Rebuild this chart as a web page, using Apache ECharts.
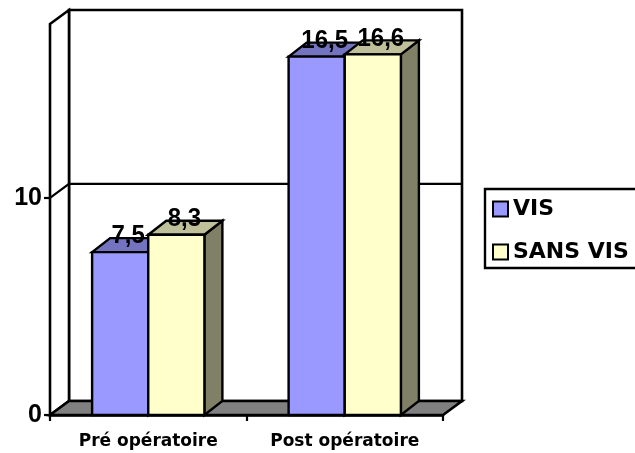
<!DOCTYPE html>
<html><head><meta charset="utf-8">
<script src="https://cdn.jsdelivr.net/npm/echarts@6/dist/echarts.min.js"></script>
<style>html,body{margin:0;padding:0;background:#fff}#c{width:635px;height:453px}</style>
</head><body><div id="c"></div>
<script>
const categories = ['Pré opératoire', 'Post opératoire'];
const seriesNames = ['VIS', 'SANS VIS'];
const visValues = [7.5, 16.5];
const sansVisValues = [8.3, 16.6];
const yTickValues = [0, 10];
const yMax = 18;
const colors = ['#9999FF', '#FFFFCC'];

const DX = 19, DY = -14;      // wall depth
const BDX = 18, BDY = -14;    // bar depth

function shade(hex, f) {
  const n = parseInt(hex.slice(1), 16);
  const r = Math.round(((n >> 16) & 255) * f), g = Math.round(((n >> 8) & 255) * f), b = Math.round((n & 255) * f);
  return 'rgb(' + r + ',' + g + ',' + b + ')';
}
const stroke = (fill, lw) => ({ fill: fill, stroke: '#000', lineWidth: lw, lineJoin: 'miter' });

function wallsRender(params, api) {
  const cs = params.coordSys;
  const x = cs.x, y = cs.y, w = cs.width, h = cs.height;
  const y10 = api.coord([0, yTickValues[1]])[1];
  return {
    type: 'group', children: [
      { type: 'rect', shape: { x: x + DX, y: y + DY, width: w, height: h }, style: stroke('#fff', 2.6) },
      { type: 'polygon', shape: { points: [[x, y], [x + DX, y + DY], [x + DX, y + h + DY], [x, y + h]] }, style: stroke('#fff', 2.6) },
      { type: 'polygon', shape: { points: [[x, y + h], [x + DX, y + h + DY], [x + w + DX, y + h + DY], [x + w, y + h]] }, style: stroke('#808080', 2.6) },
      { type: 'polyline', shape: { points: [[x, y10], [x + DX, y10 + DY], [x + w + DX, y10 + DY]] }, style: { fill: null, stroke: '#000', lineWidth: 2.2 } }
    ]
  };
}

function barRender(sIdx) {
  return function (params, api) {
    const cat = api.value(0), val = api.value(1);
    const band = api.size([1, 0])[0];
    const bw = band / 3.5;
    const top = api.coord([cat, val]);
    const base = api.coord([cat, 0]);
    const x0 = top[0] - bw + sIdx * bw, x1 = x0 + bw;
    const yT = top[1], yB = base[1];
    const c = colors[sIdx];
    return {
      type: 'group', children: [
        { type: 'polygon', shape: { points: [[x1, yB], [x1 + BDX, yB + BDY], [x1 + BDX, yT + BDY], [x1, yT]] }, style: stroke(shade(c, 0.5), 2.4) },
        { type: 'polygon', shape: { points: [[x0, yT], [x0 + BDX, yT + BDY], [x1 + BDX, yT + BDY], [x1, yT]] }, style: stroke(shade(c, 0.75), 2.4) },
        { type: 'rect', shape: { x: x0, y: yT, width: bw, height: yB - yT }, style: stroke(c, 2.4) }
      ]
    };
  };
}

function labelRender(params, api) {
  const cat = api.value(0), val = api.value(1), sIdx = api.value(2);
  const band = api.size([1, 0])[0];
  const bw = band / 3.5;
  const top = api.coord([cat, val]);
  const x0 = top[0] - bw + sIdx * bw;
  return {
    type: 'text',
    x: x0 + bw / 2 + BDX / 2 - 1, y: top[1] - 16,
    scaleY: 1.08,
    style: {
      x: 0, y: 0,
      text: String(val).replace('.', ','),
      fill: '#000', fontFamily: '"Liberation Sans", Arial, sans-serif', fontWeight: 'bold', fontSize: 24,
      align: 'center', verticalAlign: 'middle'
    }
  };
}

const labelData = [];
[visValues, sansVisValues].forEach((arr, s) => arr.forEach((v, i) => labelData.push([i, v, s])));

const chart = echarts.init(document.getElementById('c'), null, { renderer: 'canvas' });
chart.setOption({
  animation: false,
  backgroundColor: '#fff',
  grid: { left: 50, right: 192, top: 24, bottom: 38, containLabel: false },
  legend: {
    orient: 'vertical', left: 485, top: 189,
    data: seriesNames.map((n, i) => ({ name: n, icon: 'rect', itemStyle: { color: colors[i], borderColor: '#000', borderWidth: 2 } })),
    itemWidth: 15, itemHeight: 15, itemGap: 21,
    padding: [9, 40, 5, 7],
    borderColor: '#000', borderWidth: 2.4, backgroundColor: '#fff',
    selectedMode: false,
    textStyle: { fontFamily: 'DejaVu Sans', fontWeight: 'bold', fontSize: 22, color: '#000', lineHeight: 22 }
  },
  xAxis: {
    type: 'category', data: categories,
    axisLine: { lineStyle: { color: '#000', width: 2.6 } },
    axisTick: { show: true, length: 6, lineStyle: { color: '#000', width: 2.2 } },
    axisLabel: { color: '#000', fontFamily: 'DejaVu Sans', fontWeight: 'bold', fontSize: 17, margin: 18 },
    splitLine: { show: false }
  },
  yAxis: {
    type: 'value', min: 0, max: yMax, interval: 10,
    axisLine: { show: true, lineStyle: { color: '#000', width: 2.6 } },
    axisTick: { show: true, length: 6, customValues: yTickValues, lineStyle: { color: '#000', width: 2.2 } },
    axisLabel: { customValues: yTickValues, color: '#000', fontFamily: '"Liberation Sans", Arial', fontWeight: 'bold', fontSize: 25, margin: 8 },
    splitLine: { show: false }
  },
  series: [
    { type: 'custom', name: '_walls', z: 1, clip: false, silent: true, renderItem: wallsRender, data: [[0, 0]], encode: { x: 0, y: 1 } },
    { type: 'custom', name: seriesNames[0], z: 2, clip: false, itemStyle: { color: colors[0] }, renderItem: barRender(0), data: visValues.map((v, i) => [i, v]), encode: { x: 0, y: 1 } },
    { type: 'custom', name: seriesNames[1], z: 3, clip: false, itemStyle: { color: colors[1] }, renderItem: barRender(1), data: sansVisValues.map((v, i) => [i, v]), encode: { x: 0, y: 1 } },
    { type: 'custom', name: '_labels', z: 4, clip: false, silent: true, renderItem: labelRender, data: labelData, encode: { x: 0, y: 1 } }
  ]
});
</script></body></html>
